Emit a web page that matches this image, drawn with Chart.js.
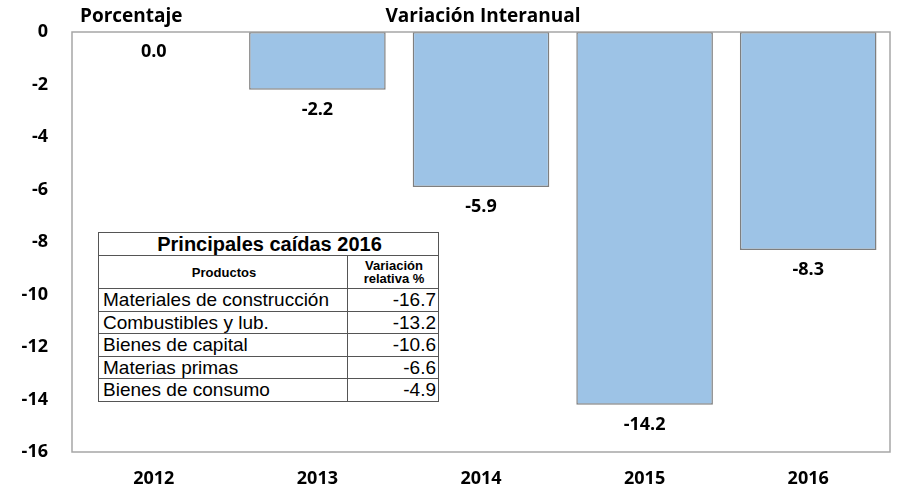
<!DOCTYPE html>
<html>
<head>
<meta charset="utf-8">
<script src="https://cdn.jsdelivr.net/npm/chart.js@4.4.1/dist/chart.umd.min.js"></script>
<style>
  body { margin: 0; background: #fff; }
  #wrap { position: relative; width: 899px; height: 490px; }
  #tabla {
    position: absolute; left: 98px; top: 232px; width: 341px;
    border-collapse: collapse; background: #fff;
    font-family: "Liberation Sans", Arial, sans-serif; color: #000;
  }
  #tabla td, #tabla th { border: 1px solid #555; padding: 0 2px 0 4px; line-height: 1; white-space: nowrap; }
  #tabla .tit { font-size: 20px; font-weight: bold; text-align: center; height: 22px; }
  #tabla .hd { font-size: 13px; font-weight: bold; text-align: center; height: 32px; }
  #tabla .dat td { font-size: 19px; height: 21.5px; }
  #tabla .dat td.num { text-align: right; }
</style>
</head>
<body>
<div id="wrap">
  <canvas id="grafico" width="899" height="490"></canvas>
  <table id="tabla"></table>
</div>
<script>
const anios = ["2012", "2013", "2014", "2015", "2016"];
const variacion = [0.0, -2.2, -5.9, -14.2, -8.3];
const ticksY = [0, -2, -4, -6, -8, -10, -12, -14, -16];

const productos = ["Materiales de construcción", "Combustibles y lub.", "Bienes de capital", "Materias primas", "Bienes de consumo"];
const caidas = [-16.7, -13.2, -10.6, -6.6, -4.9];

// --- tabla de principales caidas ---
const tabla = document.getElementById("tabla");
let html = '<tr><td class="tit" colspan="2">Principales caídas 2016</td></tr>' +
    '<tr><th class="hd">Productos</th><th class="hd" style="width:84px">Variación<br>relativa %</th></tr>';
productos.forEach((p, i) => {
    html += '<tr class="dat"><td>' + p + '</td><td class="num">' + caidas[i].toFixed(1) + '</td></tr>';
});
tabla.innerHTML = html;

const fuente = '"Open Sans", sans-serif';

// marco del area y textos
const marco = {
    id: 'marco',
    afterDraw(chart) {
        const { ctx, chartArea: { left, right, top, bottom }, scales: { x, y } } = chart;
        ctx.save();
        ctx.strokeStyle = "#a6a6a6";
        ctx.lineWidth = 1.5;
        ctx.strokeRect(left, top, right - left, bottom - top);

        ctx.fillStyle = "#000";
        ctx.font = "bold 19px " + fuente;
        ctx.textAlign = "left";
        ctx.textBaseline = "middle";
        ctx.fillText("Porcentaje", 80, 17);
        ctx.textAlign = "center";
        ctx.fillText("Variación Interanual", 483, 17);

        // etiquetas de valores
        ctx.font = "bold 18px " + fuente;
        variacion.forEach((v, i) => {
            const px = x.getPixelForValue(i);
            const py = y.getPixelForValue(v);
            ctx.fillText(v.toFixed(1), px, py + 20);
        });
        ctx.restore();
    }
};

new Chart(document.getElementById("grafico"), {
    type: "bar",
    data: {
        labels: anios,
        datasets: [{
            data: variacion,
            backgroundColor: "#9dc3e6",
            borderColor: "#7f7f7f",
            borderWidth: 1.5,
            borderSkipped: false,
            categoryPercentage: 1,
            barPercentage: 0.835
        }]
    },
    options: {
        responsive: false,
        animation: false,
        layout: { padding: { top: 32, right: 9, left: 0, bottom: 0 } },
        plugins: { legend: { display: false }, tooltip: { enabled: false } },
        scales: {
            x: {
                grid: { display: false, drawTicks: false },
                border: { display: false },
                ticks: { font: { size: 18, weight: 'bold', family: fuente }, color: '#000', padding: 16 },
                afterFit(s) { s.height = 38; }
            },
            y: {
                min: -16,
                max: 0,
                grid: { display: false, drawTicks: false },
                border: { display: false },
                afterBuildTicks(s) { s.ticks = ticksY.map(v => ({ value: v })); },
                ticks: { font: { size: 18, weight: 'bold', family: fuente }, color: '#000', padding: 24 },
                afterFit(s) { s.width = 72; s.paddingTop = 0; s.paddingBottom = 0; }
            }
        }
    },
    plugins: [marco]
});
</script>
</body>
</html>
